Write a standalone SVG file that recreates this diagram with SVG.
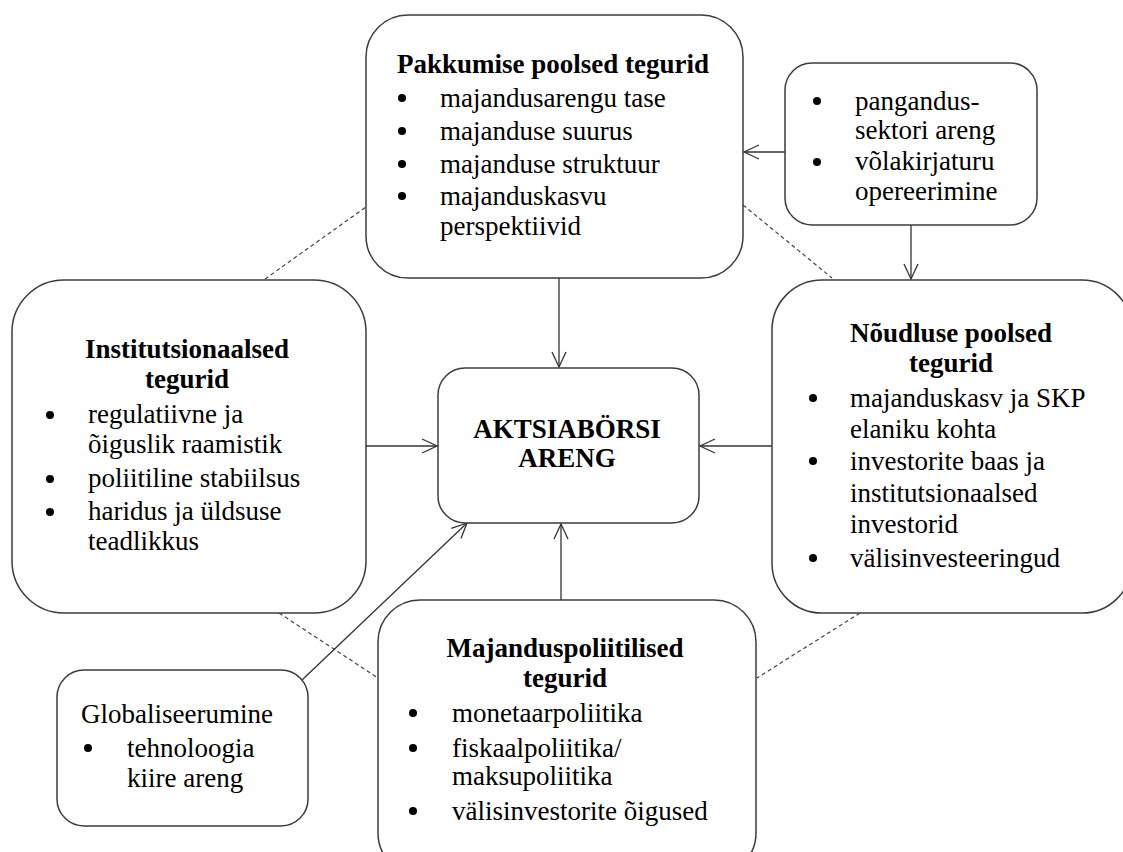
<svg xmlns="http://www.w3.org/2000/svg" width="1123" height="852" viewBox="0 0 1123 852">
<defs>
<style>
.box{fill:#fff;stroke:#3c3c3c;stroke-width:1.5}
.t{font-family:"Liberation Serif","Times New Roman",serif;font-size:27px;fill:#000}
.b{font-weight:bold}
.c{text-anchor:middle}
.dot{fill:#000}
.ln{stroke:#333;stroke-width:1.3;fill:none}
.dash{stroke:#444;stroke-width:1.2;stroke-dasharray:4 3;fill:none}
</style>
<marker id="arr" markerUnits="userSpaceOnUse" markerWidth="18" markerHeight="18" viewBox="0 0 18 18" refX="17" refY="9" orient="auto">
<path d="M2,2 L17,9 L2,16" fill="none" stroke="#333" stroke-width="1.3"/>
</marker>
</defs>
<rect width="1123" height="852" fill="#fff"/>
<g id="connectors">
<line class="dash" x1="265" y1="279" x2="366" y2="207"/>
<line class="dash" x1="743" y1="205" x2="832" y2="278"/>
<line class="dash" x1="279" y1="613" x2="378" y2="678"/>
<line class="dash" x1="860" y1="613" x2="757" y2="678"/>
<line class="ln" x1="559" y1="278" x2="559" y2="367" marker-end="url(#arr)"/>
<line class="ln" x1="785" y1="152" x2="744" y2="152" marker-end="url(#arr)"/>
<line class="ln" x1="911" y1="225" x2="911" y2="279" marker-end="url(#arr)"/>
<line class="ln" x1="366" y1="446" x2="437" y2="446" marker-end="url(#arr)"/>
<line class="ln" x1="772" y1="446" x2="700" y2="446" marker-end="url(#arr)"/>
<line class="ln" x1="561" y1="600" x2="561" y2="524" marker-end="url(#arr)"/>
<line class="ln" x1="302" y1="680" x2="467" y2="523" marker-end="url(#arr)"/>
</g>
<g id="pakkumise">
<rect class="box" x="366" y="15" width="377" height="263" rx="42"/>
<text class="t b" x="397" y="73">Pakkumise poolsed tegurid</text>
<circle class="dot" cx="402" cy="98" r="4"/>
<circle class="dot" cx="402" cy="131" r="4"/>
<circle class="dot" cx="402" cy="164" r="4"/>
<circle class="dot" cx="402" cy="196" r="4"/>
<text class="t" x="440" y="107">majandusarengu tase</text>
<text class="t" x="440" y="140">majanduse suurus</text>
<text class="t" x="440" y="173">majanduse struktuur</text>
<text class="t" x="440" y="205">majanduskasvu</text>
<text class="t" x="440" y="235">perspektiivid</text>
</g>
<g id="pangandus">
<rect class="box" x="785" y="63" width="252" height="162" rx="27"/>
<circle class="dot" cx="817" cy="101" r="4"/>
<circle class="dot" cx="817" cy="162" r="4"/>
<text class="t" x="855" y="110">pangandus-</text>
<text class="t" x="855" y="139">sektori areng</text>
<text class="t" x="855" y="170">võlakirjaturu</text>
<text class="t" x="855" y="200">opereerimine</text>
</g>
<g id="noudluse">
<rect class="box" x="772" y="280" width="360" height="333" rx="50"/>
<text class="t b c" x="951" y="342">Nõudluse poolsed</text>
<text class="t b c" x="951" y="372">tegurid</text>
<circle class="dot" cx="813" cy="398" r="4"/>
<circle class="dot" cx="813" cy="461" r="4"/>
<circle class="dot" cx="813" cy="558" r="4"/>
<text class="t" x="850" y="407">majanduskasv ja SKP</text>
<text class="t" x="850" y="438">elaniku kohta</text>
<text class="t" x="850" y="470">investorite baas ja</text>
<text class="t" x="850" y="502">institutsionaalsed</text>
<text class="t" x="850" y="533">investorid</text>
<text class="t" x="850" y="567">välisinvesteeringud</text>
</g>
<g id="institutsionaalsed">
<rect class="box" x="12" y="280" width="354" height="333" rx="52"/>
<text class="t b c" x="187" y="358">Institutsionaalsed</text>
<text class="t b c" x="187" y="388">tegurid</text>
<circle class="dot" cx="50" cy="415" r="4"/>
<circle class="dot" cx="50" cy="479" r="4"/>
<circle class="dot" cx="50" cy="512" r="4"/>
<text class="t" x="88" y="423">regulatiivne ja</text>
<text class="t" x="88" y="453">õiguslik raamistik</text>
<text class="t" x="88" y="487">poliitiline stabiilsus</text>
<text class="t" x="88" y="520">haridus ja üldsuse</text>
<text class="t" x="88" y="550">teadlikkus</text>
</g>
<g id="aktsiaborsi">
<rect class="box" x="438" y="368" width="261" height="155" rx="27"/>
<text class="t b c" x="567" y="438">AKTSIABÖRSI</text>
<text class="t b c" x="567" y="467">ARENG</text>
</g>
<g id="majanduspoliitilised">
<rect class="box" x="378" y="600" width="378" height="275" rx="42"/>
<text class="t b c" x="565" y="657">Majanduspoliitilised</text>
<text class="t b c" x="565" y="687">tegurid</text>
<circle class="dot" cx="413" cy="713" r="4"/>
<circle class="dot" cx="413" cy="748" r="4"/>
<circle class="dot" cx="413" cy="811" r="4"/>
<text class="t" x="452" y="722">monetaarpoliitika</text>
<text class="t" x="452" y="757">fiskaalpoliitika/</text>
<text class="t" x="452" y="785">maksupoliitika</text>
<text class="t" x="452" y="820">välisinvestorite õigused</text>
</g>
<g id="globaliseerumine">
<rect class="box" x="57" y="670" width="251" height="156" rx="27"/>
<text class="t" x="81" y="723">Globaliseerumine</text>
<circle class="dot" cx="88" cy="748" r="4"/>
<text class="t" x="127" y="757">tehnoloogia</text>
<text class="t" x="127" y="787">kiire areng</text>
</g>
</svg>
